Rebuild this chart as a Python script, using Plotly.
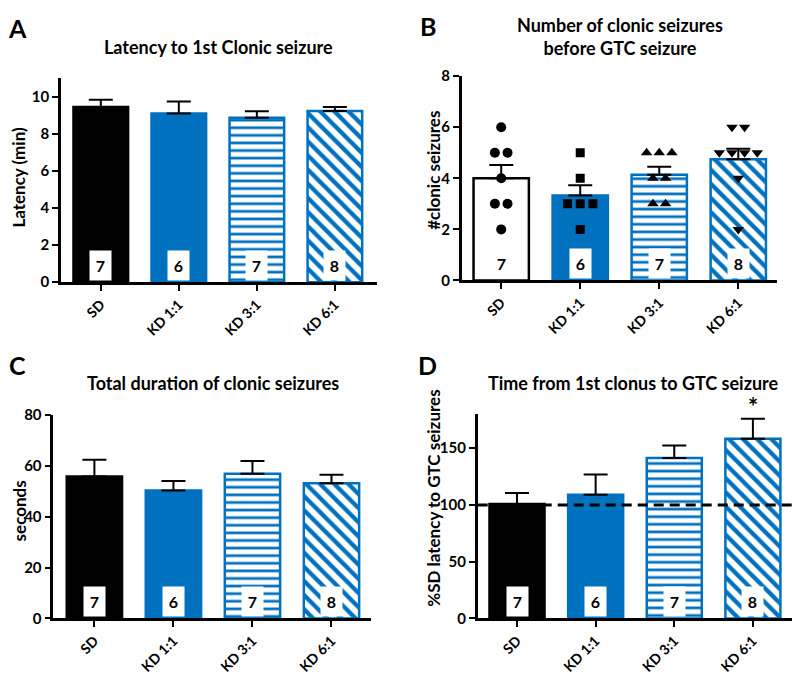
import plotly.graph_objects as go

# ---------------- data ----------------
groups = ["SD", "KD 1:1", "KD 3:1", "KD 6:1"]
n_labels = ["7", "6", "7", "8"]

latency_mean = [9.45, 9.10, 8.88, 9.24]
latency_sem = [0.40, 0.65, 0.34, 0.22]

clonic_mean = [4.00, 3.33, 4.14, 4.75]
clonic_sem = [0.52, 0.40, 0.31, 0.41]
clonic_pts_sd = [6, 5, 5, 4, 3, 3, 2]
clonic_pts_kd11 = [5, 4, 3, 3, 3, 2]
clonic_pts_kd31 = [5, 5, 5, 4, 4, 3, 3]
clonic_pts_kd61 = [6, 6, 5, 5, 5, 5, 4, 2]

duration_mean = [55.8, 50.3, 56.9, 53.2]
duration_sem = [6.6, 3.8, 5.0, 3.3]

gtc_mean = [100.8, 109.0, 141.4, 158.3]
gtc_sem = [9.7, 17.8, 10.9, 17.5]
gtc_reference = 100

# ---------------- styles / geometry ----------------
BLUE = "#0071BF"
FONT = "Lato"
positions = [0, 1, 2, 3]

# page body has an 8px margin: convert screen pixels to paper coords
OFF = 8
W, H = 800 - OFF, 680 - OFF


def xd(X):
    return (X - OFF) / W


def yd(Y):
    return 1 - (Y - OFF) / H


fig = go.Figure()

panels = {
    1: dict(mean=latency_mean, sem=latency_sem, sd_fill="black"),
    2: dict(mean=clonic_mean, sem=clonic_sem, sd_fill="white"),
    3: dict(mean=duration_mean, sem=duration_sem, sd_fill="black"),
    4: dict(mean=gtc_mean, sem=gtc_sem, sd_fill="black"),
}

for k, p in panels.items():
    sfx = "" if k == 1 else str(k)
    bar_styles = [
        dict(color=p["sd_fill"], line=dict(color="black", width=2.5)),
        dict(color=BLUE, line=dict(color=BLUE, width=2.5)),
        dict(color="white", line=dict(color=BLUE, width=2.5),
             pattern=dict(shape="-", fgcolor=BLUE, bgcolor="white", size=7.6,
                          solidity=0.36, fillmode="replace", fgopacity=1)),
        dict(color="white", line=dict(color=BLUE, width=2.5),
             pattern=dict(shape="\\", fgcolor=BLUE, bgcolor="white", size=10,
                          solidity=0.42, fillmode="replace", fgopacity=1)),
    ]
    for i in range(4):
        fig.add_trace(go.Bar(
            x=[positions[i]], y=[p["mean"][i]], width=0.7,
            xaxis="x" + sfx, yaxis="y" + sfx,
            marker=bar_styles[i],
            error_y=dict(type="data", symmetric=False, array=[p["sem"][i]],
                         arrayminus=[0], color="black", thickness=2, width=12),
            showlegend=False, hoverinfo="skip",
        ))

# scatter points for panel B, arranged side by side for equal values
point_sets = [clonic_pts_sd, clonic_pts_kd11, clonic_pts_kd31, clonic_pts_kd61]
symbols = ["circle", "square", "triangle-up", "triangle-down"]
spacing = 0.16
for gi, pts in enumerate(point_sets):
    xs, ys = [], []
    for v in sorted(set(pts), reverse=True):
        cnt = pts.count(v)
        for j in range(cnt):
            xs.append(gi + (j - (cnt - 1) / 2) * spacing)
            ys.append(v)
    fig.add_trace(go.Scatter(
        x=xs, y=ys, mode="markers", xaxis="x2", yaxis="y2",
        marker=dict(symbol=symbols[gi], color="black", size=10 if gi != 1 else 9,
                    line=dict(width=0)),
        showlegend=False, hoverinfo="skip",
    ))

# ---------------- axes ----------------
axis_common = dict(showline=True, linewidth=2.5, linecolor="black", ticks="outside",
                   ticklen=6, tickwidth=2, tickcolor="black", showgrid=False,
                   zeroline=False,
                   tickfont=dict(family=FONT, size=15, color="black", weight="bold"))

x_px = {1: (61, 377), 2: (461.7, 777), 3: (53.3, 371), 4: (477.7, 793)}
y_px = {1: (70, 279.5), 2: (67.7, 277.7), 3: (416, 625), 4: (415, 625)}
x_ranges = {1: [-0.51, 3.54], 2: [-0.5, 3.49], 3: [-0.52, 3.5], 4: [-0.5, 3.51]}
y_ranges = {1: [0, 11], 2: [0, 8], 3: [0, 80], 4: [0, 180]}
y_ticks = {1: [0, 2, 4, 6, 8, 10], 2: [0, 2, 4, 6, 8], 3: [0, 20, 40, 60, 80],
           4: [0, 50, 100, 150]}

layout = {}
for k in range(1, 5):
    sfx = "" if k == 1 else str(k)
    layout["xaxis" + sfx] = dict(axis_common, domain=[xd(x_px[k][0]), xd(x_px[k][1])],
                                 range=x_ranges[k], anchor="y" + sfx,
                                 tickvals=positions, ticktext=groups, tickangle=-45,
                                 tickfont=dict(family=FONT, size=14, color="black",
                                               weight="bold"))
    layout["yaxis" + sfx] = dict(axis_common, domain=[yd(y_px[k][1]), yd(y_px[k][0])],
                                 range=y_ranges[k], anchor="x" + sfx, tickvals=y_ticks[k])

fig.update_layout(**layout)

annotations = []

# n labels in white boxes
for k in range(1, 5):
    sfx = "" if k == 1 else str(k)
    for i, t in enumerate(n_labels):
        annotations.append(dict(
            x=positions[i], y=0, xref="x" + sfx, yref="y" + sfx, text=t,
            showarrow=False, yanchor="bottom", yshift=1, width=17, height=25, borderpad=2,
            bgcolor="white", font=dict(family=FONT, size=16, color="black", weight="bold"),
        ))

titles = [
    ("Latency to 1st Clonic seizure", 218, 38),
    ("Number of clonic seizures<br>before GTC seizure", 620, 27),
    ("Total duration of clonic seizures", 213, 383),
    ("Time from 1st clonus to GTC seizure", 633, 383),
]
for t, x, y in titles:
    annotations.append(dict(x=xd(x), y=yd(y), xref="paper", yref="paper", text=t,
                            showarrow=False, xanchor="center", yanchor="middle",
                            font=dict(family=FONT, size=18, color="black", weight="bold")))

letters = [("A", 17, 18), ("B", 428, 16), ("C", 17, 365), ("D", 427, 365)]
for t, x, y in letters:
    annotations.append(dict(x=xd(x), y=yd(y), xref="paper", yref="paper", text=t,
                            showarrow=False, xanchor="center", yanchor="middle",
                            font=dict(family=FONT, size=25, color="black", weight="bold")))

ytitles = [("Latency (min)", 19, 172), ("#clonic seizures", 434, 165),
           ("seconds", 19, 515), ("%SD latency to GTC seizures", 434, 502)]
for t, x, y in ytitles:
    annotations.append(dict(x=xd(x), y=yd(y), xref="paper", yref="paper", text=t,
                            showarrow=False, textangle=-90, xanchor="center",
                            yanchor="middle",
                            font=dict(family=FONT, size=17, color="black", weight="bold")))

# significance star
annotations.append(dict(x=3, y=gtc_mean[3] + gtc_sem[3], xref="x4", yref="y4", text="*",
                        showarrow=False, yanchor="bottom", yshift=-4,
                        font=dict(family=FONT, size=24, color="black", weight="bold")))

fig.update_layout(annotations=annotations)

# dashed reference line at 100 % in panel D
fig.add_shape(type="line", xref="paper", yref="y4", x0=xd(x_px[4][0]), x1=1.0,
              y0=gtc_reference, y1=gtc_reference,
              line=dict(color="black", width=3, dash="10px,6px"), layer="above")

fig.update_layout(width=W, height=H, margin=dict(l=0, r=0, t=0, b=0),
                  paper_bgcolor="white", plot_bgcolor="white", barmode="overlay",
                  font=dict(family=FONT, color="black"))

fig.write_html("out.html")
